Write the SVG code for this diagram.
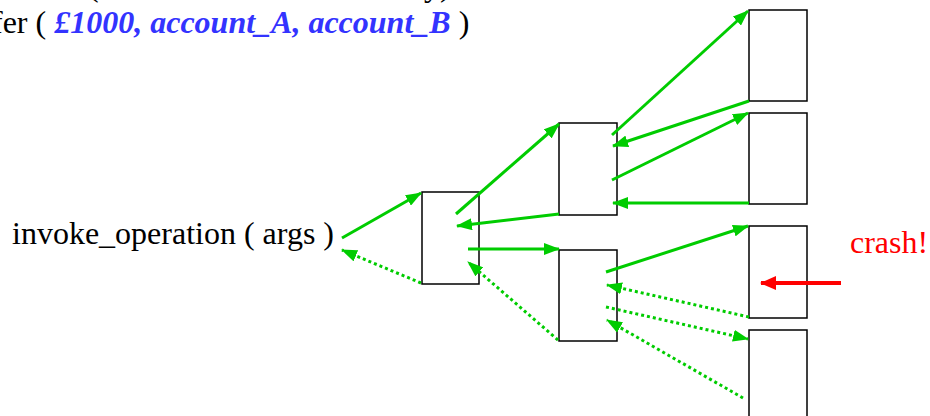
<svg xmlns="http://www.w3.org/2000/svg" width="930" height="416" viewBox="0 0 930 416">
<defs>
<style>
.box{fill:#fff;stroke:#000;stroke-width:1.5}
.g{stroke:#00CC00;stroke-width:3;fill:none;marker-end:url(#ag)}
.d{stroke-dasharray:3 3}
.t{font-family:"Liberation Serif","Times New Roman",serif;font-size:32px;fill:#000}
</style>
<marker id="ag" markerUnits="userSpaceOnUse" markerWidth="16" markerHeight="12" refX="15" refY="6" orient="auto" viewBox="0 0 16 12">
<path d="M0,0 L16,6 L0,12 Z" fill="#00CC00"/>
</marker>
<marker id="ar" markerUnits="userSpaceOnUse" markerWidth="16" markerHeight="14" refX="15" refY="7" orient="auto" viewBox="0 0 16 14">
<path d="M0,0 L16,7 L0,14 Z" fill="#FF0000"/>
</marker>
</defs>
<rect width="930" height="416" fill="#fff"/>
<g id="heading">
<text class="t" x="88" y="-4">(</text>
<text class="t" x="424" y="-4">y)</text>
<text class="t" x="-8" y="33">fer ( <tspan fill="#3333FF" font-weight="bold" font-style="italic">£1000, account_A, account_B</tspan> )</text>
</g>
<g id="caller"><text class="t" x="12" y="244">invoke_operation ( args )</text></g>
<g id="crash-label"><text class="t" x="850" y="253" fill="#FF0000" style="fill:#FF0000">crash!</text></g>
<g id="nodeA"><rect class="box" x="422" y="192" width="57" height="92"/></g>
<g id="nodeB"><rect class="box" x="559" y="123" width="58" height="92"/></g>
<g id="nodeC"><rect class="box" x="559" y="250" width="58" height="91"/></g>
<g id="nodeD"><rect class="box" x="749" y="10" width="58" height="91"/></g>
<g id="nodeE"><rect class="box" x="749" y="113" width="58" height="91"/></g>
<g id="nodeF"><rect class="box" x="749" y="226" width="58" height="92"/></g>
<g id="nodeG"><rect class="box" x="749" y="330" width="58" height="100"/></g>
<g id="connectors">
<line class="g" x1="342" y1="238" x2="421" y2="193"/>
<line class="g d" x1="421" y1="283" x2="342" y2="250"/>
<line class="g" x1="456" y1="214" x2="559" y2="124"/>
<line class="g" x1="559" y1="214" x2="457" y2="226"/>
<line class="g" x1="468" y1="249" x2="559" y2="249"/>
<line class="g d" x1="558" y1="340" x2="468" y2="262"/>
<line class="g" x1="612" y1="135" x2="748" y2="11"/>
<line class="g" x1="749" y1="101" x2="613" y2="146"/>
<line class="g" x1="612" y1="180" x2="748" y2="113"/>
<line class="g" x1="749" y1="203" x2="613" y2="203"/>
<line class="g" x1="606" y1="272" x2="748" y2="226"/>
<line class="g d" x1="749" y1="317" x2="607" y2="285"/>
<line class="g d" x1="606" y1="307" x2="748" y2="339"/>
<line class="g d" x1="743" y1="398" x2="607" y2="320"/>
<line x1="841" y1="283" x2="761" y2="283" stroke="#FF0000" stroke-width="4" marker-end="url(#ar)"/>
</g>
</svg>
